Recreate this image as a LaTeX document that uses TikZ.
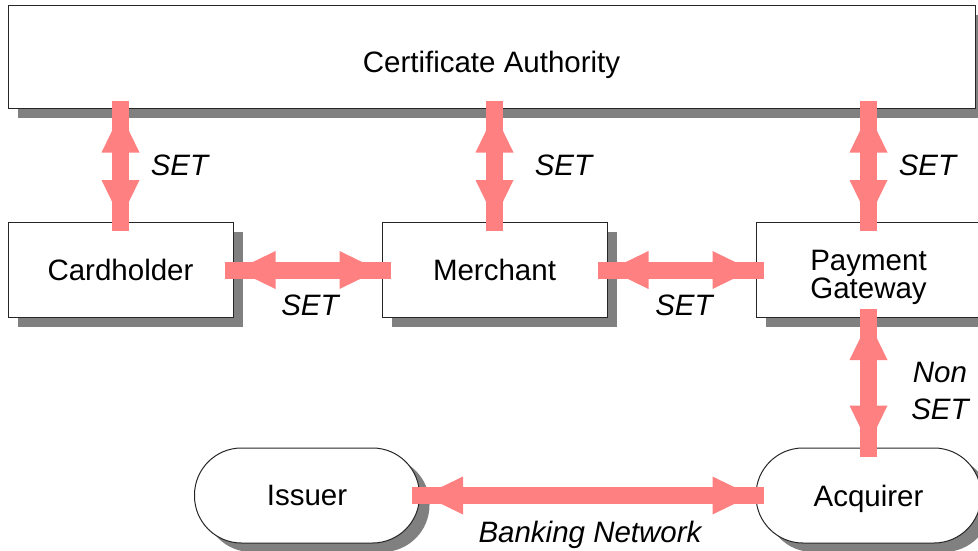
\documentclass[tikz,border=0pt]{standalone}
\usepackage{fontspec}
\setmainfont{Liberation Sans}
\usetikzlibrary{shadows,arrows.meta,decorations.markings}
\definecolor{arrowpink}{RGB}{255,128,128}
\definecolor{shadowgray}{RGB}{128,128,128}

\begin{document}
\begin{tikzpicture}[x=1pt, y=-1pt,
    font=\fontsize{29.5pt}{28pt}\selectfont,
    party/.style={draw=black!85, line width=1pt, fill=white, minimum width=225pt,
        minimum height=95pt, inner sep=0pt, text depth=0pt,
        drop shadow={shadow xshift=10pt, shadow yshift=-9pt, fill=shadowgray, opacity=1}},
    bank/.style={party, rounded corners=47pt},
    setarrow/.style={draw=arrowpink, line width=17pt, postaction={decorate},
        decoration={markings,
            mark=at position 12pt with {\arrowreversed[arrowpink]{Triangle[width=38pt,length=39pt,line width=0pt]}},
            mark=at position -12pt with {\arrow[arrowpink]{Triangle[width=38pt,length=39pt,line width=0pt]}}}},
    setlabel/.style={anchor=base, font=\fontsize{29.5pt}{37pt}\selectfont\itshape}]
    \clip (0,0) rectangle (978,551);

    % the parties
    \node[party, minimum width=967pt, minimum height=103pt, text height=29.5pt] (ca) at (491.5,57.5) {Certificate Authority};
    \node[party] (card) at (120.5,270) {Cardholder};
    \node[party] (merch) at (494.5,270) {Merchant};
    \node[party, align=center, text height=57.5pt] (gate) at (868.5,270) {Payment\\Gateway};
    \node[bank] (iss) at (307,495.5) {Issuer};
    \node[bank] (acq) at (868.5,495.5) {Acquirer};

    % links
    \draw[setarrow] ([yshift=8pt]card.north |- ca.south) -- ([yshift=-9pt]card.north);
    \draw[setarrow] ([yshift=8pt]merch.north |- ca.south) -- ([yshift=-9pt]merch.north);
    \draw[setarrow] ([yshift=8pt]gate.north |- ca.south) -- ([yshift=-9pt]gate.north);
    \draw[setarrow] ([xshift=-9pt]card.east) -- ([xshift=9pt]merch.west);
    \draw[setarrow] ([xshift=-10pt]merch.east) -- ([xshift=8pt]gate.west);
    \draw[setarrow] ([yshift=9pt]gate.south) -- ([yshift=-9pt]acq.north);
    \draw[setarrow] ([xshift=-8pt]iss.east) -- ([xshift=8pt]acq.west);

    \node[setlabel] (l1) at (179.5,175) {SET};
    \node[setlabel] (l2) at (563.5,175) {SET};
    \node[setlabel] (l3) at (927.5,175) {SET};
    \node[setlabel] (l4) at (310,315) {SET};
    \node[setlabel] (l5) at (684,315) {SET};
    \node[setlabel, anchor=center, align=center] (l6) at (940,391) {Non\\SET};
    \node[setlabel] (l7) at (590,542) {Banking Network};
\end{tikzpicture}
\end{document}
